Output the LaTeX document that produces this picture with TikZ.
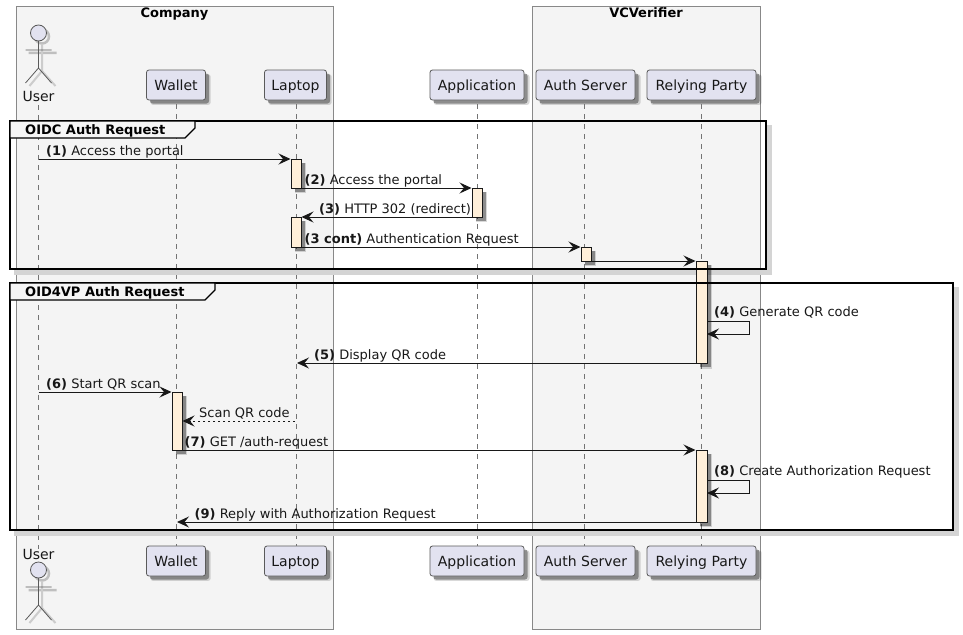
\documentclass[tikz,border=0pt]{standalone}
\usepackage{fontspec}
\setmainfont{DejaVu Sans}
\usetikzlibrary{arrows.meta,shadows,positioning}
\definecolor{boxbg}{HTML}{F4F4F4}
\definecolor{boxln}{HTML}{888888}
\definecolor{partbg}{HTML}{E2E2F0}
\definecolor{partln}{HTML}{5A5A5A}
\definecolor{actbg}{HTML}{FFEFD9}
\definecolor{ink}{HTML}{181818}
\definecolor{shade}{HTML}{D4D4D4}
\tikzset{
  x=1pt,y=-1pt,
  softshadow/.style={
    general shadow={shadow xshift=4.5pt,shadow yshift=-4.5pt,fill=black,opacity=.15,shadow scale=1.02},
    general shadow={shadow xshift=3.5pt,shadow yshift=-3.5pt,fill=black,opacity=.35}},
  boxframe/.style={draw=boxln,fill=boxbg,line width=1pt,outer sep=0pt},
  boxtitle/.style={font=\fontsize{13}{15}\selectfont\bfseries,text=black,anchor=base,inner sep=0pt},
  part/.style={draw=partln,fill=partbg,line width=.8pt,rounded corners=2.5pt,minimum height=30pt,inner sep=0pt,outer sep=0pt,
    font=\fontsize{14}{16}\selectfont,text=ink,text height=10.5pt,text depth=0pt,softshadow},
  actorname/.style={font=\fontsize{14}{16}\selectfont,text=ink,anchor=base,inner sep=0pt},
  life/.style={draw=partln!85,line width=.7pt,dash pattern=on 5pt off 5pt},
  act/.style={draw=ink,fill=actbg,line width=1pt,inner sep=0pt,outer sep=0pt,minimum width=10pt,softshadow},
  msg/.style={draw=ink,line width=1pt,-{Stealth[length=12pt,width=11pt,inset=4.5pt,color=ink]}},
  msgd/.style={msg,dash pattern=on 2.5pt off 2.5pt},
  lbl/.style={font=\fontsize{13}{15}\selectfont,text=ink,anchor=base west,inner sep=0pt},
  grp/.style={draw=black,line width=1.6pt,outer sep=0pt},
  grptab/.style={draw=black,fill=boxbg!90!white,line width=1.2pt},
  grpname/.style={font=\fontsize{13}{15}\selectfont\bfseries,text=black,anchor=base west,inner sep=0pt},
  shadowstroke/.style={draw=shade,line width=5pt},
}
\newcommand{\drawactor}[2]{%
  \begin{scope}[shift={(#1,#2)}]
    \draw[draw=black!25,line width=2.5pt] (3.5,3.5) circle[radius=7] (-10,20) -- (18,20);
    \draw[draw=black!20,line width=2pt] (3.5,11) -- (3.5,38) (-9,53) -- (3.5,38) -- (17,53);
    \draw[draw=partln,fill=partbg,line width=.8pt] (0,0) circle[radius=8];
    \draw[draw=partln,line width=.8pt] (0,8) -- (0,35) (-13,17) -- (13,17) (-13,50) -- (0,35) -- (13,50);
  \end{scope}}
\begin{document}
\begin{tikzpicture}
\useasboundingbox (0,0) rectangle (963,634);
\fill[white] (0,0) rectangle (963,634);
% grouping boxes
\node[boxframe,minimum width=316.5pt,minimum height=622pt,inner sep=0pt] (company) at (174.75,318) {};
\node[boxframe,minimum width=227.5pt,minimum height=622pt,inner sep=0pt] (vcv) at (646.25,318) {};
\node[boxtitle] (companyT) at (174.5,18) {Company};
\node[boxtitle] (vcvT) at (646,18) {VCVerifier};
% participants
\drawactor{38.5}{33}
\drawactor{38.5}{570}
\node[actorname] (userT) at (38.5,101) {User};
\node[actorname] (userB) at (38.5,559) {User};
\node[part,minimum width=59pt] (walletT) at (176,85) {Wallet};
\node[part,minimum width=62pt] (laptopT) at (295.5,85) {Laptop};
\node[part,minimum width=94pt] (appT) at (477,85) {Application};
\node[part,minimum width=99pt] (authT) at (585.5,85) {Auth Server};
\node[part,minimum width=109pt] (rpT) at (701.5,85) {Relying Party};
\node[part,minimum width=59pt] (walletB) at (176,561) {Wallet};
\node[part,minimum width=62pt] (laptopB) at (295.5,561) {Laptop};
\node[part,minimum width=94pt] (appB) at (477,561) {Application};
\node[part,minimum width=99pt] (authB) at (585.5,561) {Auth Server};
\node[part,minimum width=109pt] (rpB) at (701.5,561) {Relying Party};
% lifelines
\coordinate (uA) at (38.5,105);
\coordinate (uB) at (38.5,549);
\draw[life] (uA) -- (uB);
\draw[life,shorten <=4pt] ([xshift=.5pt]walletT.south) -- ([xshift=.5pt]walletB.north);
\draw[life,shorten <=4pt] ([xshift=.5pt]laptopT.south) -- ([xshift=.5pt]laptopB.north);
\draw[life,shorten <=4pt] (appT.south) -- (appB.north);
\draw[life,shorten <=4pt] ([xshift=-1pt]authT.south) -- ([xshift=-1pt]authB.north);
\draw[life,shorten <=4pt] (rpT.south) -- (rpB.north);
% group shadows
\draw[shadowstroke] (769.5,125) -- (769.5,272.5) -- (14,272.5);
\draw[shadowstroke] (956.5,287) -- (956.5,533.5) -- (14,533.5);
% activations
\node[act,minimum height=29pt] (lap1) at (296,173.5) {};
\node[act,minimum height=29pt] (app1) at (477,202.5) {};
\node[act,minimum height=30pt] (lap2) at (296,232) {};
\node[act,minimum height=14pt] (auth1) at (586,254) {};
\node[act,minimum height=102pt,minimum width=11pt] (rp1) at (701.5,312) {};
\node[act,minimum height=58pt] (wal1) at (177,421) {};
\node[act,minimum height=72pt,minimum width=11pt] (rp2) at (701.5,486) {};
% group frames
\node[grp,minimum width=756pt,minimum height=148pt,inner sep=0pt] (g1) at (388,195) {};
\node[grp,minimum width=943pt,minimum height=247pt,inner sep=0pt] (g2) at (481.5,406.5) {};
\draw[grptab] (g1.north west) -- (195,121) -- (195,128) -- (185,138) -- (10,138) -- cycle;
\draw[grptab] (g2.north west) -- (215,283) -- (215,290) -- (205,300) -- (10,300) -- cycle;
\node[grpname] (g1n) at (25,134) {OIDC Auth Request};
\node[grpname] (g2n) at (25,296) {OID4VP Auth Request};
% message end points on lifelines
\coordinate (m1) at (38.5,159);
\coordinate (m5) at (297,363);
\coordinate (m6) at (38.5,392);
\coordinate (ms) at (295,421);
\coordinate (m9) at (177,522);
% messages
\draw[msg] (m1) -- ([xshift=-.5pt]lap1.north west);
\draw[msg] (lap1.south east) -- ([xshift=-.5pt]app1.north west);
\draw[msg] (app1.south west) -- ([xshift=.5pt]lap2.north east);
\draw[msg] (lap2.south east) -- ([xshift=-.5pt]auth1.north west);
\draw[msg] (auth1.south east) -- ([xshift=-.5pt]rp1.north west);
\draw[msg] ([yshift=42pt]rp1.south east) -- (749,321) -- (749,334) -- ([yshift=29pt]rp1.south east);
\draw[msg] (rp1.south west) -- (m5);
\draw[msg] (m6) -- ([xshift=-.5pt]wal1.north west);
\draw[msgd] (ms) -- ([yshift=29pt,xshift=.5pt]wal1.south east);
\draw[msg] (wal1.south east) -- ([xshift=-.5pt]rp2.north west);
\draw[msg] ([yshift=-30pt]rp2.north east) -- (749,480) -- (749,493) -- ([yshift=-43pt]rp2.north east);
\draw[msg] (rp2.south west) -- (m9);
% labels
\node[lbl] (l1) at (46,155) {\textbf{(1)} Access the portal};
\node[lbl] (l2) at (304.5,184) {\textbf{(2)} Access the portal};
\node[lbl] (l3) at (319,213) {\textbf{(3)} HTTP 302 (redirect)};
\node[lbl] (l3c) at (304.5,243) {\textbf{(3 cont)} Authentication Request};
\node[lbl] (l4) at (714,316) {\textbf{(4)} Generate QR code};
\node[lbl] (l5) at (314,359) {\textbf{(5)} Display QR code};
\node[lbl] (l6) at (46,388) {\textbf{(6)} Start QR scan};
\node[lbl] (ls) at (199,417) {Scan QR code};
\node[lbl] (l7) at (184.5,446) {\textbf{(7)} GET /auth-request};
\node[lbl] (l8) at (714,475) {\textbf{(8)} Create Authorization Request};
\node[lbl] (l9) at (194.5,518) {\textbf{(9)} Reply with Authorization Request};
\end{tikzpicture}
\end{document}
